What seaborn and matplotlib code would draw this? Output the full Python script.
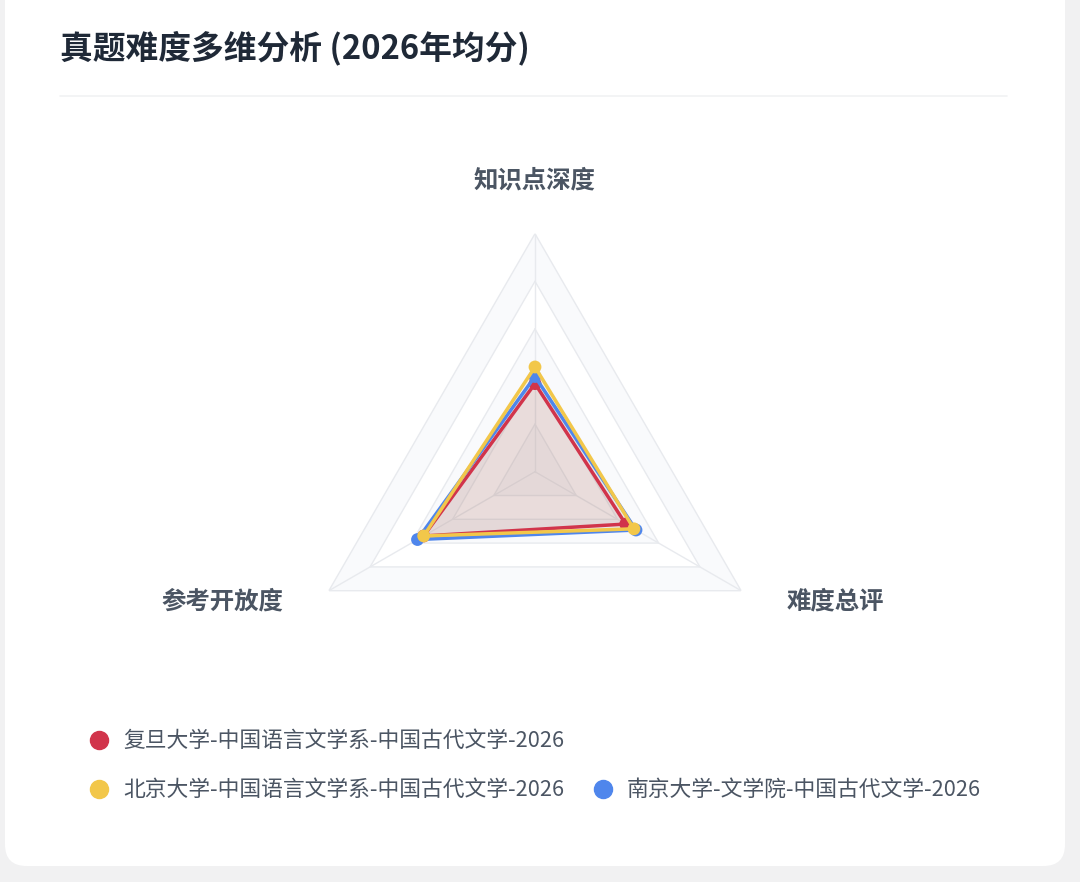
import numpy as np
import pandas as pd
import matplotlib.pyplot as plt
import seaborn as sns
from matplotlib.patches import FancyBboxPatch

# chart data (scale 0-10)
indicators = ['知识点深度', '参考开放度', '难度总评']
schools = ['复旦大学-中国语言文学系-中国古代文学-2026',
           '北京大学-中国语言文学系-中国古代文学-2026',
           '南京大学-文学院-中国古代文学-2026']
fudan = [3.7, 5.4, 4.4]
beida = [4.4, 5.4, 4.8]
nanjing = [4.0, 5.7, 4.9]
colors = ['#d1344b', '#f2c74a', '#4f86ec']
max_value = 10
levels = [2, 4, 6, 8, 10]

sns.set_theme(style='white')
plt.rcParams['font.family'] = ['Noto Sans CJK SC', 'DejaVu Sans']

W, H = 1080, 882
fig = plt.figure(figsize=(W / 100, H / 100), dpi=100)
fig.patch.set_facecolor('#f1f1f2')

# white card
card = FancyBboxPatch((5 / W, 16 / H), 1060 / W, 900 / H,
                      boxstyle='round,pad=0,rounding_size=0.02',
                      transform=fig.transFigure, facecolor='white',
                      edgecolor='none', mutation_aspect=W / H, zorder=-5)
fig.patches.append(card)

# title + divider
fig.text(60 / W, 1 - 48 / H, '真题难度多维分析 (2026年均分)', fontsize=23.6,
         fontweight='bold', color='#1f2937', va='center', ha='left')
fig.add_artist(plt.Line2D([60 / W, 1007 / W], [1 - 96 / H, 1 - 96 / H],
                          color='#f1f2f4', lw=1.2, transform=fig.transFigure))

# radar axes
cx, cy, R = 535, 471.7, 238
ax = fig.add_axes([(cx - R) / W, (H - cy - R) / H, 2 * R / W, 2 * R / H],
                  projection='polar')
ax.set_zorder(2)
ax.set_theta_offset(np.pi / 2)
ax.set_ylim(0, max_value)
ax.grid(False)
ax.spines['polar'].set_visible(False)
ax.patch.set_alpha(0)

angles = np.linspace(0, 2 * np.pi, len(indicators), endpoint=False)
closed = np.append(angles, angles[0])

# split areas and split lines
for i, lv in enumerate(levels[::-1]):
    band = '#f9fafc' if i % 2 == 0 else 'white'
    ax.fill(closed, [lv] * len(closed), color=band, zorder=1, lw=0)
for lv in levels:
    ax.plot(closed, [lv] * len(closed), color='#e8eaee', lw=1, zorder=2)
for a in angles:
    ax.plot([a, a], [0, max_value], color='#e8eaee', lw=1, zorder=2)

# series
df = pd.DataFrame({
    'angle': np.tile(angles, 3),
    'value': fudan + beida + nanjing,
    'school': np.repeat(schools, len(indicators)),
})
draw_order = [0, 2, 1]
for k in draw_order:
    sub = df[df['school'] == schools[k]]
    vals = np.append(sub['value'].values, sub['value'].values[0])
    ax.fill(closed, vals, color=colors[k], alpha=0.1, lw=0, zorder=3)
for z, k in enumerate(draw_order):
    sub = df[df['school'] == schools[k]]
    vals = np.append(sub['value'].values, sub['value'].values[0])
    ax.plot(closed, vals, color=colors[k], lw=2.5, zorder=4 + z)
    sns.scatterplot(x=sub['angle'], y=sub['value'], ax=ax, color=colors[k],
                    s=85, edgecolor='none', zorder=4 + z, legend=False)
ax.set_xlabel('')
ax.set_ylabel('')
ax.set_xticks([])
ax.set_yticks([])
ax.set_ylim(0, max_value)

# indicator labels
label_pos = [(535, 180), (222, 601), (835, 601)]
for name, (px, py) in zip(indicators, label_pos):
    fig.text(px / W, 1 - py / H, name, fontsize=17.6, fontweight='bold',
             color='#4b5563', ha='center', va='center')

# legend (flow layout like the original)
leg_pos = [(99, 740), (99, 789), (603, 789)]
for name, col, (px, py) in zip(schools, colors, leg_pos):
    fig.add_artist(plt.Line2D([px / W], [1 - py / H], marker='o', markersize=13,
                              color=col, lw=0, transform=fig.transFigure))
    fig.text((px + 24) / W, 1 - (py + 1) / H, name, fontsize=15.7,
             color='#4b5563', ha='left', va='center')

fig.savefig('out.png', dpi=100)
